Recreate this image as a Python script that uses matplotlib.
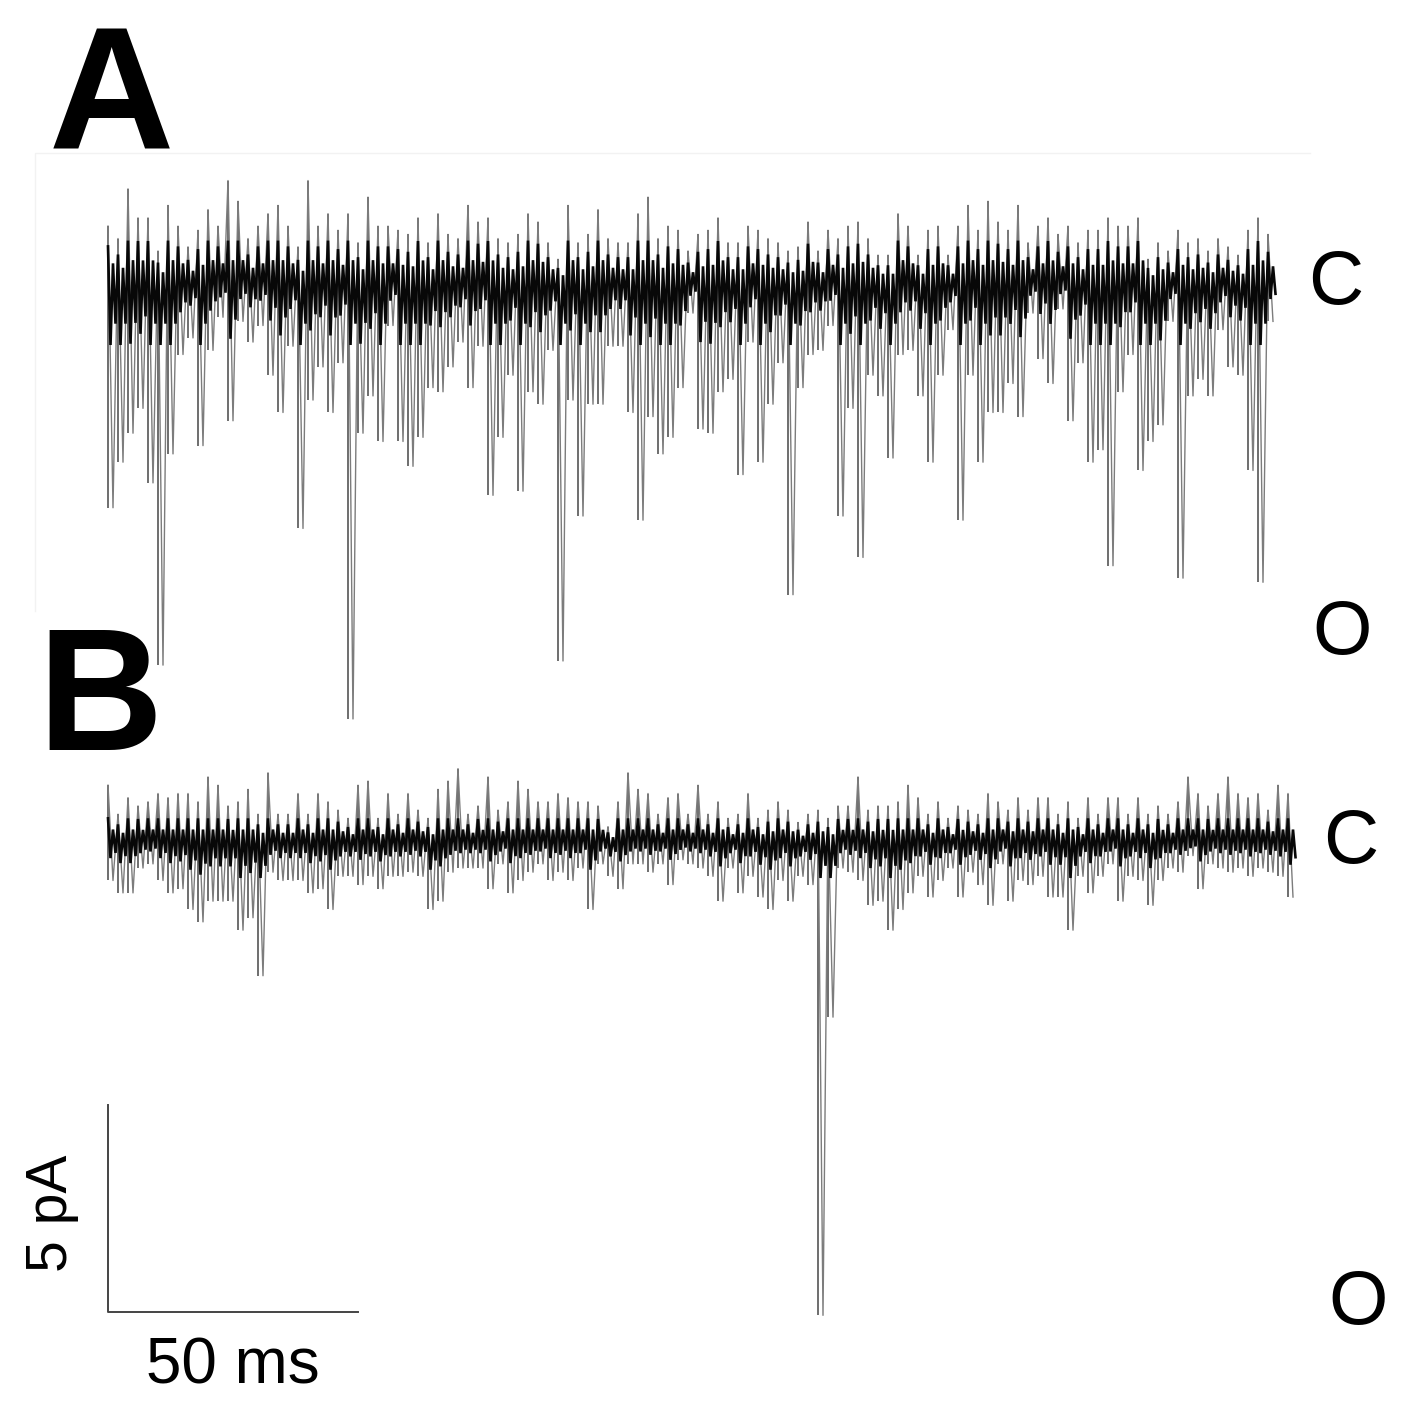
import numpy as np
import matplotlib
matplotlib.use("Agg")
import matplotlib.pyplot as plt

plt.rcParams['font.family'] = ['Liberation Sans', 'DejaVu Sans']

# display bins of 2 ms: largest (upper) and smallest (lower) current in each bin, pA rel. to closed level
bin_ms = 2.0

a_upper = [1.4, 1.1, 2.3, 1.6, 1.6, 0.8, 1.9, 1.4, 0.9, 1.3, 1.8, 1.4, 2.5, 2.0, 1.1, 1.4, 1.7, 1.9, 1.4, 0.9,
           2.5, 1.4, 1.7, 1.3, 1.7, 1.0, 2.1, 1.4, 1.4, 1.3, 1.2, 1.6, 1.0, 1.7, 1.2, 1.1, 1.9, 1.5, 1.6, 1.1,
           1.0, 1.2, 1.7, 1.5, 1.0, 0.6, 1.9, 1.0, 1.2, 1.8, 1.1, 1.0, 1.0, 1.7, 2.1, 1.1, 1.4, 1.3, 0.8, 1.2,
           1.3, 1.6, 1.0, 1.0, 1.4, 1.3, 1.1, 1.0, 0.8, 0.9, 1.5, 0.8, 1.3, 1.1, 1.4, 1.5, 1.1, 0.7, 0.7, 1.7,
           1.4, 0.7, 1.3, 1.4, 0.7, 1.4, 1.9, 1.3, 2.0, 1.5, 1.3, 1.9, 1.0, 1.4, 1.6, 1.2, 1.4, 1.0, 1.3, 1.3,
           1.6, 1.4, 1.4, 1.6, 0.6, 1.0, 0.8, 1.3, 1.0, 1.1, 0.8, 1.1, 0.9, 0.7, 1.3, 1.6, 1.2]
a_lower = [-5.4, -4.3, -3.6, -3.0, -4.8, -9.2, -4.1, -1.7, -1.3, -3.9, -1.6, -0.8, -3.3, -0.9, -1.4, -1.0, -2.2, -3.1, -1.5, -5.9,
           -2.8, -2.0, -3.1, -1.9, -10.5, -3.6, -2.7, -3.8, -1.0, -3.8, -4.4, -3.7, -2.5, -2.6, -2.0, -1.4, -2.5, -1.5, -5.1, -3.7,
           -2.2, -5.0, -2.6, -2.9, -1.6, -9.1, -2.8, -5.6, -2.9, -2.9, -1.5, -1.5, -3.1, -5.7, -3.2, -4.1, -3.7, -2.5, -0.7, -3.5,
           -3.6, -2.6, -2.3, -4.6, -1.4, -4.3, -2.9, -1.9, -7.5, -2.5, -1.7, -1.6, -1.0, -5.6, -3.0, -6.6, -2.2, -2.7, -4.2, -1.7,
           -1.6, -2.7, -4.3, -2.2, -1.1, -5.7, -2.2, -4.3, -3.1, -3.1, -2.4, -3.2, -0.7, -1.8, -2.4, -0.6, -3.3, -1.9, -4.3, -4.0,
           -6.8, -2.6, -1.7, -4.5, -3.8, -3.4, -0.9, -7.1, -2.7, -2.3, -2.7, -1.1, -2.0, -2.2, -4.5, -7.2, -0.9]

b_upper = [1.4, 0.7, 1.1, 0.9, 1.0, 1.2, 1.1, 1.2, 1.2, 1.0, 1.6, 1.4, 0.9, 1.0, 1.3, 0.7, 1.7, 0.7, 0.7, 1.2,
           0.7, 1.2, 1.0, 0.8, 0.6, 1.4, 1.5, 0.6, 1.2, 0.7, 1.2, 0.8, 0.6, 1.3, 1.5, 1.8, 0.7, 0.9, 1.6, 0.8,
           1.0, 1.5, 1.3, 1.0, 1.0, 1.2, 1.1, 1.0, 1.0, 0.9, 0.4, 1.0, 1.7, 1.3, 1.2, 0.7, 1.1, 1.2, 0.7, 1.4,
           0.7, 1.0, 0.6, 0.7, 1.2, 0.6, 0.8, 1.0, 0.8, 0.5, 0.7, 0.8, 0.6, 0.9, 0.9, 1.6, 0.8, 0.9, 0.9, 1.0,
           1.4, 1.1, 0.7, 1.0, 0.6, 0.9, 0.8, 0.7, 1.2, 1.0, 0.8, 1.1, 0.8, 1.1, 1.1, 0.7, 1.0, 0.6, 1.1, 0.7,
           1.1, 1.1, 0.7, 1.1, 0.7, 0.9, 0.7, 1.0, 1.6, 1.2, 0.9, 1.2, 1.6, 1.2, 1.1, 1.2, 0.8, 1.4, 1.2]
b_lower = [-0.9, -1.2, -1.2, -0.6, -0.5, -0.9, -1.2, -1.1, -1.6, -1.9, -1.4, -1.4, -1.4, -2.1, -1.8, -3.2, -0.7, -0.9, -0.9, -0.9,
           -1.2, -1.1, -1.6, -0.8, -0.8, -1.0, -0.8, -1.1, -0.8, -0.8, -0.7, -0.8, -1.6, -1.4, -0.7, -0.6, -0.6, -0.6, -1.1, -0.5,
           -1.2, -0.9, -0.7, -0.5, -0.9, -0.7, -0.9, -0.6, -1.6, -0.5, -0.8, -1.1, -0.5, -0.5, -0.7, -0.5, -1.0, -0.4, -0.5, -0.6,
           -0.8, -1.4, -0.6, -1.2, -0.8, -1.3, -1.6, -0.9, -1.4, -0.8, -1.0, -11.4, -4.2, -0.6, -0.7, -0.9, -1.5, -1.4, -2.1, -1.6,
           -1.2, -0.8, -1.3, -0.9, -0.6, -1.3, -0.7, -1.0, -1.5, -0.5, -1.4, -0.9, -1.0, -0.8, -1.3, -1.3, -2.1, -0.8, -1.2, -0.8,
           -0.5, -1.4, -0.8, -0.9, -1.5, -0.9, -0.6, -0.7, -0.3, -1.1, -0.5, -0.6, -0.7, -0.6, -0.8, -0.6, -0.7, -0.8, -1.3]

# closed level of trace A sits this far above trace B
a_offset = 13.5

scale_pa = 5
scale_ms = 50


def draw_trace(ax, upper, lower, y0, core_max):
    upper = np.array(upper)
    lower = np.array(lower)
    t = np.arange(len(upper)) * bin_ms
    q = bin_ms / 4
    # full excursions: grey strokes
    ax.vlines(t, lower + y0, upper + y0, color='#626262', lw=1.3)
    zt = np.ravel(np.column_stack([t, t + 2 * q]))
    zy = np.ravel(np.column_stack([upper, lower]))
    ax.plot(zt, zy + y0, color='#7c7c7c', lw=1.0)
    # dark core of the noise band, drawn as a tight zig-zag
    hi = np.minimum(0.65 * upper, core_max)
    lo = np.maximum(0.4 * lower, -1.4 * core_max)
    ct = np.ravel(np.column_stack([t, t + q, t + 2 * q, t + 3 * q]))
    cy = np.ravel(np.column_stack([hi, lo, 0.55 * hi, 0.65 * lo]))
    ax.plot(ct, cy + y0, color='#080808', lw=1.9, solid_joinstyle='miter')


fig = plt.figure(figsize=(14.23, 14.23), dpi=100)
ax = fig.add_axes([0, 0, 1, 1])
ax.set_xlim(-21.6, 263.0)
ax.set_ylim(-14.0, 20.36)
ax.axis('off')

# faint panel frame left over from the figure layout
ax.plot([-14.6, -14.6, 240.4], [5.6, 16.67, 16.67], color='#f2f2f2', lw=1.0)

draw_trace(ax, a_upper, a_lower, a_offset, 1.05)
draw_trace(ax, b_upper, b_lower, 0.0, 0.6)

# scale bar
bar_y = -11.33
ax.plot([0, 0, scale_ms], [bar_y + scale_pa, bar_y, bar_y], color='#444444', lw=1.4)
ax.text(-11.3, bar_y + scale_pa / 2 - 0.1, '5 pA', rotation=90, ha='center', va='center', fontsize=41)
ax.text(scale_ms / 2, bar_y - 1.3, '50 ms', ha='center', va='center', fontsize=46)

# state labels
ax.text(245.5, a_offset, 'C', ha='center', va='center', fontsize=55)
ax.text(246.8, a_offset - 8.45, 'O', ha='center', va='center', fontsize=55)
ax.text(248.5, 0.0, 'C', ha='center', va='center', fontsize=55)
ax.text(250.0, -11.15, 'O', ha='center', va='center', fontsize=55)

# panel letters
ax.text(0.7, 16.74, 'A', ha='center', va='baseline', fontsize=125, fontweight='bold')
ax.text(-1.6, 2.25, 'B', ha='center', va='baseline', fontsize=125, fontweight='bold')

fig.savefig('out.png', dpi=100)
